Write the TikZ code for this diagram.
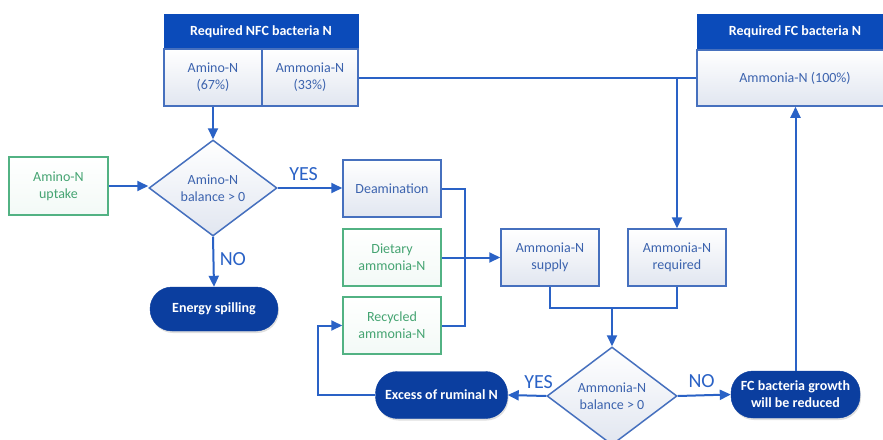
\documentclass[tikz,border=0pt]{standalone}
\usepackage{fontspec}
\setmainfont{Carlito}
\usetikzlibrary{shapes.geometric,arrows.meta,shadows}
\definecolor{headblue}{HTML}{0B4BBA}
\definecolor{pillblue}{HTML}{0B3E9F}
\definecolor{linkblue}{HTML}{2A62C6}
\definecolor{edgeblue}{HTML}{4670BE}
\definecolor{textblue}{HTML}{3C63AE}
\definecolor{inputgreen}{HTML}{52B283}
\definecolor{greentext}{HTML}{45A472}
\definecolor{boxlow}{HTML}{E1E6F0}
\tikzset{
  basefont/.style={font=\fontsize{14}{17}\selectfont},
  procbox/.style={basefont, draw=edgeblue, line width=1.5pt, top color=white, bottom color=boxlow,
    text=textblue, align=center, inner sep=0pt, minimum width=98pt, minimum height=57pt},
  inbox/.style={procbox, draw=inputgreen, text=greentext, top color=white, bottom color=white!93!inputgreen},
  headbox/.style={basefont, draw=headblue, fill=headblue, text=white, align=center, inner sep=0pt,
    font=\fontsize{14}{17}\selectfont\bfseries},
  cellbox/.style={procbox},
  decision/.style={basefont, diamond, draw=edgeblue, line width=1.5pt, top color=white, bottom color=boxlow,
    text=textblue, align=center, inner sep=0pt},
  endpill/.style={basefont, rectangle, rounded corners=22pt, fill=pillblue, draw=pillblue, text=white,
    align=center, inner sep=0pt, font=\fontsize{14}{17}\selectfont\bfseries,
    drop shadow={opacity=0.25, shadow xshift=1pt, shadow yshift=-2pt}},
  link/.style={draw=linkblue, line width=2pt},
  flow/.style={link, -{Triangle[length=11pt,width=10pt]}},
  answer/.style={text=linkblue, font=\fontsize{20}{22}\selectfont}
}
\begin{document}
\begin{tikzpicture}[x=1pt,y=-1pt]
\useasboundingbox (0,0) rectangle (883,439);
\fill[white] (0,0) rectangle (883,439);

% requirement tables
\node[headbox, minimum width=194pt, minimum height=35pt] (nfchead) at (261,31.5) {Required NFC bacteria N};
\node[cellbox, minimum width=98pt, minimum height=57pt] (aminoreq) at (213,77.5) {Amino-N\\(67\%)};
\node[cellbox, minimum width=96pt, minimum height=57pt] (ammreq) at (310,77.5) {Ammonia-N\\(33\%)};
\node[headbox, minimum width=196pt, minimum height=36pt] (fchead) at (795,32) {Required FC bacteria N};
\node[cellbox, minimum width=196pt, minimum height=56pt] (fcreq) at (795,78) {Ammonia-N (100\%)};

% inputs and processes
\node[inbox, minimum width=99pt, minimum height=58pt] (uptake) at (58.5,186) {Amino-N\\uptake};
\node[decision, minimum width=128pt, minimum height=96pt] (dec1) at (213,188) {Amino-N\\balance > 0};
\node[procbox] (deam) at (392,188.5) {Deamination};
\node[inbox] (dietary) at (392,257.5) {Dietary\\ammonia-N};
\node[inbox] (recycled) at (392,325.5) {Recycled\\ammonia-N};
\node[procbox] (supply) at (550,257.5) {Ammonia-N\\supply};
\node[procbox] (required) at (677,257.5) {Ammonia-N\\required};
\node[decision, minimum width=130pt, minimum height=98pt] (dec2) at (612,396) {Ammonia-N\\balance > 0};

% outcomes
\node[endpill, minimum width=128pt, minimum height=44pt] (spill) at (214,309) {Energy spilling};
\node[endpill, minimum width=132pt, minimum height=47pt] (excess) at (441.5,395) {Excess of ruminal N};
\node[endpill, minimum width=129pt, minimum height=47pt] (fcgrowth) at (795.5,394.5) {FC bacteria growth\\will be reduced};

% junction points
\coordinate (split) at (required.north |- ammreq.east);
\coordinate (bus) at (465,0);
\coordinate (merge) at (dec2.north |- 0,308);
\coordinate (loop) at (318,0);

% connectors
\draw[flow] (aminoreq.south) -- (dec1.north);
\draw[flow] (uptake.east) -- (uptake.east -| dec1.west);
\draw[flow] (dec1.east) -- node[answer, above, pos=0.4, yshift=3pt] {YES} (dec1.east -| deam.west);
\draw[flow] (dec1.south) -- node[answer, right, pos=0.45, xshift=2pt] {NO} (spill.north);
\draw[link] (ammreq.east) -- (ammreq.east -| fcreq.west);
\draw[flow] (split) -- (required.north);
\draw[link] (deam.east) -| (bus |- recycled.east) -- (recycled.east);
\draw[flow] (dietary.east) -- (supply.west);
\draw[link] (supply.south) |- (merge) -| (required.south);
\draw[flow] (merge) -- (dec2.north);
\draw[flow] (dec2.west) -- node[answer, above, pos=0.2, yshift=3pt] {YES} (excess.east);
\draw[flow] (excess.west) -| (loop |- recycled.west) -- (recycled.west);
\draw[flow] (dec2.east) -- node[answer, above, pos=0.45, yshift=3pt] {NO} (fcgrowth.west);
\draw[flow] (fcgrowth.north) -- (fcgrowth.north |- fcreq.south);
\end{tikzpicture}
\end{document}
